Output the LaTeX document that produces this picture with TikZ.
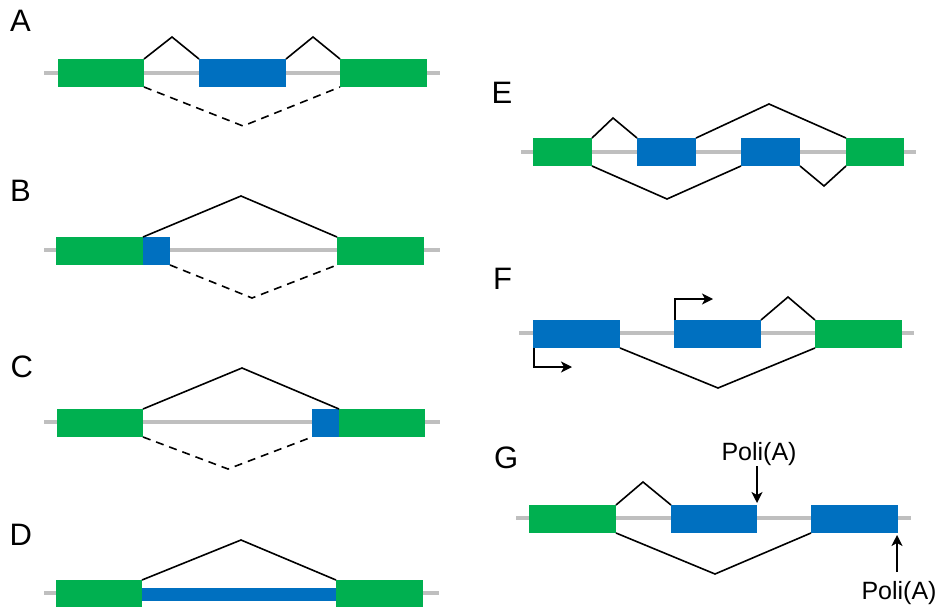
\documentclass[tikz,border=0pt]{standalone}
\usepackage{fontspec}
\setmainfont{Liberation Sans}
\usetikzlibrary{arrows.meta}
\definecolor{exgreen}{HTML}{00B050}
\definecolor{exblue}{HTML}{0070C0}
\definecolor{intgray}{HTML}{BFBFBF}
\tikzset{
  intron/.style={draw=intgray, line width=4pt},
  exon/.style={anchor=north west, inner sep=0pt, outer sep=0pt, minimum height=28pt, draw=none},
  gex/.style={exon, fill=exgreen},
  bex/.style={exon, fill=exblue},
  splice/.style={draw=black, line width=1.6pt, line join=miter},
  alt/.style={splice, dash pattern=on 8pt off 6pt},
  lab/.style={anchor=base west, inner sep=0pt, font=\fontsize{31}{31}\selectfont},
  poli/.style={anchor=base, inner sep=0pt, font=\fontsize{25}{25}\selectfont},
  arr/.style={line width=1.6pt, -{Stealth[length=11pt,width=11pt,inset=3pt]}}
}
\begin{document}
\begin{tikzpicture}[x=1pt,y=-1pt]
\useasboundingbox (0,0) rectangle (939,607);
% ---------- A ----------
\node[lab] (labA) at (10,32) {A};
\coordinate (aL) at (44,73); \coordinate (aR) at (440,73);
\draw[intron] (aL) -- (aR);
\node[gex, minimum width=86pt] (a1) at (58,59) {};
\node[bex, minimum width=87pt] (a2) at (199,59) {};
\node[gex, minimum width=87pt] (a3) at (340,59) {};
\coordinate (ap1) at (172,37); \coordinate (ap2) at (313,37); \coordinate (ad) at (243,126);
\draw[splice] (a1.north east) -- (ap1) -- (a2.north west);
\draw[splice] (a2.north east) -- (ap2) -- (a3.north west);
\draw[alt] (a1.south east) -- (ad) -- (a3.south west);
% ---------- B ----------
\node[lab] (labB) at (10,201) {B};
\coordinate (bL) at (44,250); \coordinate (bR) at (440,250);
\draw[intron] (bL) -- (bR);
\node[gex, minimum width=87pt] (b1) at (56,237) {};
\node[bex, minimum width=27pt] (b2) at (143,237) {};
\node[gex, minimum width=87pt] (b3) at (337,237) {};
\coordinate (bp) at (241,196); \coordinate (bd) at (252,298);
\draw[splice] (b1.north east) -- (bp) -- (b3.north west);
\draw[alt] (b2.south east) -- (bd) -- (b3.south west);
% ---------- C ----------
\node[lab] (labC) at (10.5,377) {C};
\coordinate (cL) at (44,422); \coordinate (cR) at (440,422);
\draw[intron] (cL) -- (cR);
\node[gex, minimum width=86pt] (c1) at (57,409) {};
\node[bex, minimum width=27pt] (c2) at (312,409) {};
\node[gex, minimum width=86pt] (c3) at (339,409) {};
\coordinate (cp) at (242,368); \coordinate (cd) at (228,469);
\draw[splice] (c1.north east) -- (cp) -- (c3.north west);
\draw[alt] (c1.south east) -- (cd) -- (c2.south west);
% ---------- D ----------
\node[lab] (labD) at (9.5,545) {D};
\coordinate (dL) at (44,593); \coordinate (dR) at (439,593);
\draw[intron] (dL) -- (dR);
\node[gex, minimum width=86pt] (d1) at (56,580) {};
\node[bex, minimum width=194pt, minimum height=13pt] (d2) at (142,588) {};
\node[gex, minimum width=87pt] (d3) at (336,580) {};
\coordinate (dp) at (241,540);
\draw[splice] (d1.north east) -- (dp) -- (d3.north west);
% ---------- E ----------
\node[lab] (labE) at (491.5,103) {E};
\coordinate (eL) at (521,152); \coordinate (eR) at (916,152);
\draw[intron] (eL) -- (eR);
\node[gex, minimum width=59pt] (e1) at (533,138) {};
\node[bex, minimum width=59pt] (e2) at (637,138) {};
\node[bex, minimum width=59pt] (e3) at (741,138) {};
\node[gex, minimum width=58pt] (e4) at (846,138) {};
\coordinate (ep1) at (613,118); \coordinate (ep2) at (769,104);
\coordinate (ed1) at (667,199); \coordinate (ed2) at (824,186);
\draw[splice] (e1.north east) -- (ep1) -- (e2.north west);
\draw[splice] (e2.north east) -- (ep2) -- (e4.north west);
\draw[splice] (e1.south east) -- (ed1) -- (e3.south west);
\draw[splice] (e3.south east) -- (ed2) -- (e4.south west);
% ---------- F ----------
\node[lab] (labF) at (493,289) {F};
\coordinate (fL) at (519,333); \coordinate (fR) at (914,333);
\draw[intron] (fL) -- (fR);
\node[bex, minimum width=87pt] (f1) at (533,320) {};
\node[bex, minimum width=87pt] (f2) at (674,320) {};
\node[gex, minimum width=87pt] (f3) at (815,320) {};
\coordinate (fp) at (788,297); \coordinate (fd) at (718,388);
\draw[splice] (f2.north east) -- (fp) -- (f3.north west);
\draw[splice] (f1.south east) -- (fd) -- (f3.south west);
\coordinate (fa1) at (713,299); \coordinate (fa2) at (572,367);
\draw[arr] ([xshift=1pt]f2.north west) |- (fa1);
\draw[arr] ([xshift=1pt]f1.south west) |- (fa2);
% ---------- G ----------
\node[lab] (labG) at (494,468) {G};
\coordinate (gL) at (516,518); \coordinate (gR) at (911,518);
\draw[intron] (gL) -- (gR);
\node[gex, minimum width=87pt] (g1) at (529,505) {};
\node[bex, minimum width=86pt] (g2) at (671,505) {};
\node[bex, minimum width=87pt] (g3) at (811,505) {};
\coordinate (gp) at (643,482); \coordinate (gd) at (715,574);
\draw[splice] (g1.north east) -- (gp) -- (g2.north west);
\draw[splice] (g1.south east) -- (gd) -- (g3.south west);
\node[poli] (p1) at (759,460) {Poli(A)};
\node[poli] (p2) at (899,599) {Poli(A)};
\coordinate (ga1) at (757,466); \coordinate (ga2) at (897,572);
\draw[arr, shorten >=2pt] (ga1) -- (ga1 |- g2.north east);
\draw[arr, shorten >=2pt] (ga2) -- (ga2 |- g3.south east);
\end{tikzpicture}
\end{document}
